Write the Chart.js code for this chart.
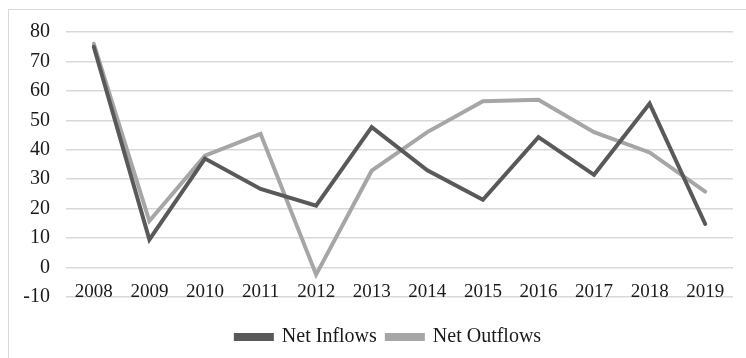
<!DOCTYPE html>
<html>
<head>
<meta charset="utf-8">
<script src="https://cdn.jsdelivr.net/npm/chart.js@4.4.0/dist/chart.umd.min.js"></script>
<style>
  html, body { margin: 0; padding: 0; background: #fff; overflow: hidden; }
  #frame { position: absolute; left: 8px; top: 9px; width: 800px; height: 400px; border: 1px solid #d9d9d9; }
  #wrap { position: absolute; left: 0; top: 0; width: 746px; height: 358px; }
</style>
</head>
<body>
<div id="frame"></div>
<div id="wrap"><canvas id="chart"></canvas></div>
<script>
// years on the category axis
var years = ['2008', '2009', '2010', '2011', '2012', '2013', '2014', '2015', '2016', '2017', '2018', '2019'];
// values
var netInflows = [75, 9.5, 37, 26.7, 21, 47.7, 33, 23, 44.3, 31.5, 55.7, 14.8];
var netOutflows = [76, 15.8, 38, 45.4, -2.4, 32.9, 46, 56.5, 57, 46, 39.1, 25.8];

var serif = "'Liberation Serif', 'Times New Roman', serif";

// the legend in the original is centred on the whole frame, not on the plot
var legendShift = {
    id: 'legendShift',
    afterLayout: function(chart) {
        var lg = chart.legend;
        lg.left += 22;
        lg.right += 22;
    }
};

var ctx = document.getElementById('chart');
var chart = new Chart(ctx, {
    type: 'line',
    data: {
        labels: years,
        datasets: [{
            label: 'Net Inflows',
            data: netInflows,
            borderColor: '#595959',
            backgroundColor: '#595959',
            borderWidth: 4,
            pointRadius: 0,
            tension: 0,
            borderCapStyle: 'round'
        }, {
            label: 'Net Outflows',
            data: netOutflows,
            borderColor: '#a6a6a6',
            backgroundColor: '#a6a6a6',
            borderWidth: 4,
            pointRadius: 0,
            tension: 0,
            borderCapStyle: 'round'
        }]
    },
    plugins: [legendShift],
    options: {
        responsive: true,
        maintainAspectRatio: false,
        animation: false,
        layout: {
            padding: { top: 32, right: 13, bottom: 1, left: 0 }
        },
        plugins: {
            tooltip: { enabled: false },
            legend: {
                position: 'bottom',
                labels: {
                    color: '#1a1a1a',
                    font: { family: serif, size: 20 },
                    boxWidth: 36,
                    boxHeight: 4,
                    padding: 10
                }
            }
        },
        scales: {
            x: {
                offset: true,
                grid: { display: false, drawTicks: false },
                border: { display: false },
                ticks: { display: false },
                afterFit: function(scale) { scale.height = 20; }
            },
            xLabels: {
                type: 'category',
                axis: 'x',
                labels: years,
                offset: true,
                position: { y: -4.6 },
                grid: { display: false, drawTicks: false },
                border: { display: false },
                ticks: {
                    color: '#1a1a1a',
                    font: { family: serif, size: 19 },
                    padding: 0,
                    maxRotation: 0,
                    autoSkip: false
                }
            },
            y: {
                min: -10,
                max: 80,
                grid: { color: '#d9d9d9', lineWidth: 1.5, drawTicks: false },
                border: { display: false },
                ticks: {
                    stepSize: 10,
                    color: '#1a1a1a',
                    font: { family: serif, size: 20 },
                    padding: 16
                },
                afterFit: function(scale) { scale.width = 66; }
            }
        }
    }
});
</script>
</body>
</html>
